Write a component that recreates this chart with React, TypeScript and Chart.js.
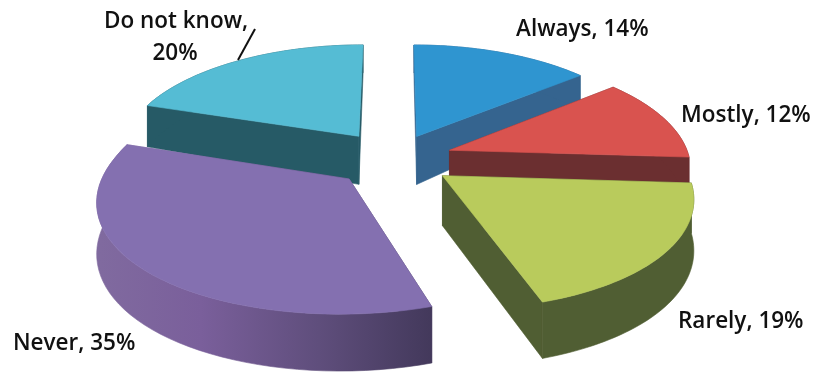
import React, { useEffect, useRef } from "react";
import { Chart, registerables } from "chart.js";

Chart.register(...registerables);

const categories = ["Always", "Mostly", "Rarely", "Never", "Do not know"];
const shares = [14, 12, 19, 35, 20];
const explode = [32, 34.5, 35, 36, 36];
const topColors = ["#2f95d0", "#d9534f", "#b9cb5c", "#8470b0", "#55bcd4"];
const wallColors = ["#35648f", "#6b2f30", "#505e33", "#7d639c", "#265a66"];
const paintOrder = [4, 0, 1, 2, 3];

// Label text: one entry per line, [text, x, y, align]
const labelLines: [string, number, number, CanvasTextAlign][] = [
  [`${categories[0]}, ${shares[0]}%`, 516, 36, "left"],
  [`${categories[1]}, ${shares[1]}%`, 681, 122, "left"],
  [`${categories[2]}, ${shares[2]}%`, 678, 328, "left"],
  [`${categories[3]}, ${shares[3]}%`, 13, 350, "left"],
  [`${categories[4]},`, 176, 28, "center"],
  [`${shares[4]}%`, 175, 60, "center"],
];
const leader = [255, 29, 238, 60];

// Tilted-disc projection parameters
const RX = 240;
const RY = 110;
const PERSPECTIVE = 0.14;
const PERSPECTIVE_FRONT_X = 0.165;

type Pt = [number, number];

const tiltedPie = {
  id: "tiltedPie",
  beforeDatasetDraw(chart: any) {
    const ctx: CanvasRenderingContext2D = chart.ctx;
    const arcs = chart.getDatasetMeta(0).data;

    for (const i of paintOrder) {
      const arc = arcs[i];
      const { x, y, startAngle, endAngle, outerRadius } = arc.getProps(
        ["x", "y", "startAngle", "endAngle", "outerRadius"],
        true
      );
      const off = arc.options.offset / outerRadius;
      const mid = (startAngle + endAngle) / 2;
      const ox = Math.cos(mid) * off;
      const oy = Math.sin(mid) * off;

      const project = (px: number, py: number): Pt => {
        const sy = 1 / (1 - PERSPECTIVE * py);
        const sx = py > 0 ? 1 / (1 - PERSPECTIVE_FRONT_X * py) : sy;
        return [x + RX * px * sx, y + RY * py * sy];
      };
      // Thickness of the disc grows toward the viewer
      const drop = (p: Pt): Pt => {
        const t = p[1] < 136 ? 48 + 0.22 * (p[1] - 136) : 48 + 0.05 * (p[1] - 136);
        return [p[0], p[1] + t];
      };

      const steps = 48;
      const rim: Pt[] = [];
      for (let k = 0; k <= steps; k++) {
        const a = startAngle + ((endAngle - startAngle) * k) / steps;
        rim.push(project(ox + Math.cos(a), oy + Math.sin(a)));
      }
      const apex = project(ox, oy);

      const fillPoly = (pts: Pt[], fill: string | CanvasGradient) => {
        ctx.beginPath();
        pts.forEach((p, n) => (n ? ctx.lineTo(p[0], p[1]) : ctx.moveTo(p[0], p[1])));
        ctx.closePath();
        ctx.fillStyle = fill;
        ctx.strokeStyle = fill;
        ctx.lineWidth = 0.6;
        ctx.fill();
        ctx.stroke();
      };

      let wall: string | CanvasGradient = wallColors[i];
      if (i === 3) {
        const g = ctx.createLinearGradient(100, 0, 436, 0);
        g.addColorStop(0, "#806a9f");
        g.addColorStop(0.3, "#7a5f9b");
        g.addColorStop(0.65, "#5f4e7c");
        g.addColorStop(1, "#42385a");
        wall = g;
      }

      const first = rim[0];
      const last = rim[rim.length - 1];
      fillPoly([apex, first, drop(first), drop(apex)], wall);
      fillPoly([apex, last, drop(last), drop(apex)], wall);
      fillPoly([...rim, ...rim.map(drop).reverse()], wall);
      fillPoly([apex, ...rim], topColors[i]);
    }
    return false;
  },
  afterDatasetsDraw(chart: any) {
    const ctx: CanvasRenderingContext2D = chart.ctx;
    ctx.save();
    ctx.fillStyle = "#111";
    ctx.font = '600 22.5px "Open Sans"';
    ctx.textBaseline = "alphabetic";
    for (const [text, x, y, align] of labelLines) {
      ctx.textAlign = align;
      ctx.fillText(text, x, y);
    }
    ctx.beginPath();
    ctx.moveTo(leader[0], leader[1]);
    ctx.lineTo(leader[2], leader[3]);
    ctx.strokeStyle = "#111";
    ctx.lineWidth = 2;
    ctx.stroke();
    ctx.restore();
  },
};

export default function App() {
  const ref = useRef<HTMLCanvasElement>(null);
  useEffect(() => {
    document.body.style.margin = "0";
    const chart = new Chart(ref.current!, {
      type: "pie",
      data: {
        labels: categories,
        datasets: [{ data: shares, offset: explode, backgroundColor: topColors, borderWidth: 0 }],
      },
      options: {
        animation: false,
        responsive: false,
        layout: { padding: { right: 34, bottom: 57 } },
        plugins: { legend: { display: false }, tooltip: { enabled: false } },
      },
      plugins: [tiltedPie],
    } as any);
    return () => chart.destroy();
  }, []);
  return <canvas ref={ref} width={822} height={374} style={{ display: "block" }} />;
}
